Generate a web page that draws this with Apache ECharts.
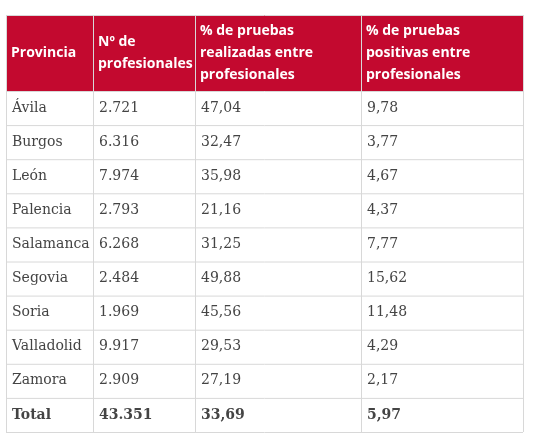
<!DOCTYPE html><html><head><meta charset="utf-8"><script src="https://cdn.jsdelivr.net/npm/echarts@6/dist/echarts.min.js"></script></head><body style="margin:0;background:#fff"><div id="c" style="width:534px;height:441px"></div><script>
const headers=["Provincia","Nº de\nprofesionales","% de pruebas\nrealizadas entre\nprofesionales","% de pruebas\npositivas entre\nprofesionales"];
const provincias=["Ávila","Burgos","León","Palencia","Salamanca","Segovia","Soria","Valladolid","Zamora","Total"];
const profesionales=["2.721","6.316","7.974","2.793","6.268","2.484","1.969","9.917","2.909","43.351"];
const realizadas=["47,04","32,47","35,98","21,16","31,25","49,88","45,56","29,53","27,19","33,69"];
const positivas=["9,78","3,77","4,67","4,37","7,77","15,62","11,48","4,29","2,17","5,97"];
(function(){
const colX=[6,93,195,361,523], tY=15, hb=91, rh=34.1;
const g=[];
g.push({type:'rect',shape:{x:colX[0],y:tY,width:colX[4]-colX[0],height:hb-tY},style:{fill:'#c3092f'}});
const n=provincias.length, bottom=hb+n*rh;
for(let i=0;i<colX.length;i++)g.push({type:'line',shape:{x1:colX[i]+.5,y1:tY,x2:colX[i]+.5,y2:bottom},style:{stroke:'#d8d8d8',lineWidth:1},z:5});
for(let r=0;r<=n;r++)g.push({type:'line',shape:{x1:colX[0],y1:hb+r*rh+.5,x2:colX[4],y2:hb+r*rh+.5},style:{stroke:'#d8d8d8',lineWidth:1},z:5});
g.push({type:'line',shape:{x1:colX[0],y1:tY+.5,x2:colX[4],y2:tY+.5},style:{stroke:'#d8d8d8'},z:5});
headers.forEach((h,i)=>g.push({type:'text',x:colX[i]+5,y:(tY+hb)/2,style:{text:h,fill:'#fff',font:'bold 14px "Open Sans"',lineHeight:22,verticalAlign:'middle'},z:6}));
const cols=[provincias,profesionales,realizadas,positivas];
for(let r=0;r<n;r++)cols.forEach((c,i)=>g.push({type:'text',x:colX[i]+6,y:hb+r*rh+rh/2,style:{text:c[r],fill:'#444',font:(r==n-1?'bold ':'')+'14px "DejaVu Serif"',verticalAlign:'middle'},z:6}));
const ch=echarts.init(document.getElementById('c'));
ch.setOption({graphic:g});
})();
</script></body></html>
